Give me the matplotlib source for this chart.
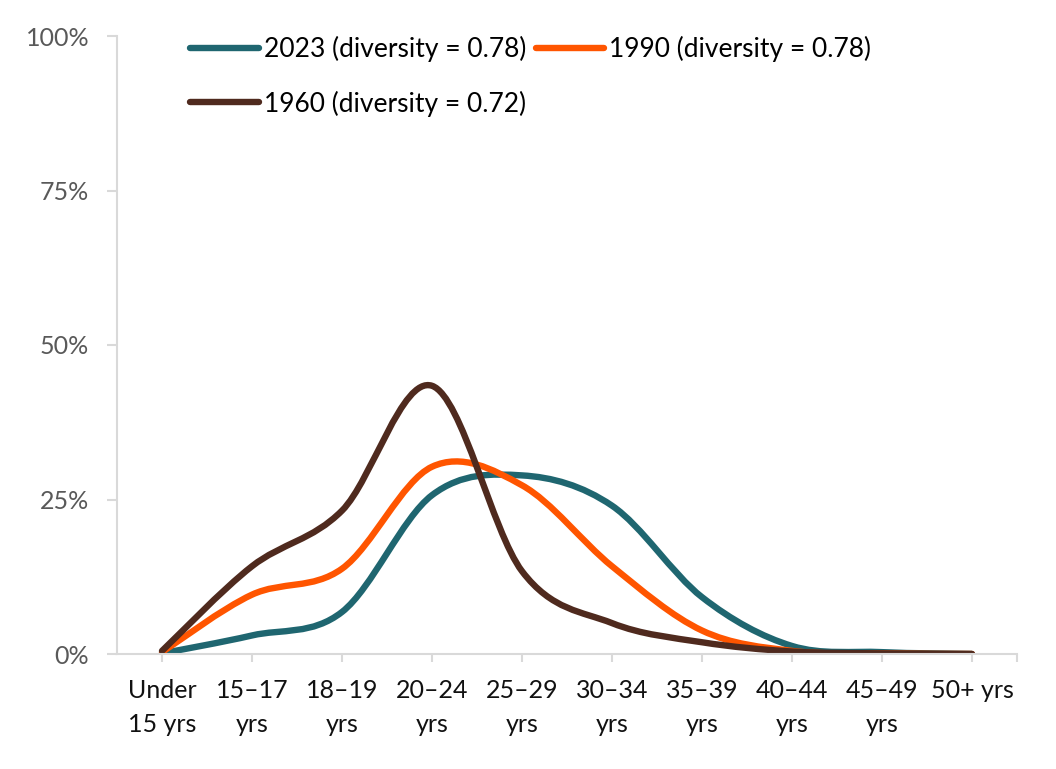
import matplotlib
matplotlib.use("Agg")
import matplotlib.pyplot as plt
from matplotlib.path import Path
from matplotlib.patches import PathPatch
from matplotlib.lines import Line2D
import numpy as np

plt.rcParams['font.family'] = ['Lato', 'DejaVu Sans']

categories = ['Under\n15 yrs', '15–17\nyrs', '18–19\nyrs', '20–24\nyrs', '25–29\nyrs',
              '30–34\nyrs', '35–39\nyrs', '40–44\nyrs', '45–49\nyrs', '50+ yrs']

share_2023 = [0.1, 3.0, 6.8, 25.7, 28.9, 24.0, 9.2, 1.3, 0.3, 0.0]
share_1990 = [0.3, 9.6, 13.8, 30.3, 27.3, 14.2, 3.8, 0.5, 0.1, 0.0]
share_1960 = [0.5, 14.2, 23.2, 43.4, 13.4, 5.0, 1.9, 0.4, 0.1, 0.0]

labels = ['2023 (diversity = 0.78)', '1990 (diversity = 0.78)', '1960 (diversity = 0.72)']
colors = ['#1F6670', '#FF5500', '#4F2A1E']

yticks = [0, 25, 50, 75, 100]
ytick_labels = ['0%', '25%', '50%', '75%', '100%']


def smooth_path(x, y):
    """Excel-style smoothed line: cubic Bezier segments through each point."""
    pts = np.column_stack([x, y]).astype(float)
    ext = np.vstack([pts[0], pts, pts[-1]])
    verts = [pts[0]]
    codes = [Path.MOVETO]
    for i in range(len(pts) - 1):
        p0, p1, p2, p3 = ext[i], ext[i + 1], ext[i + 2], ext[i + 3]
        verts += [p1 + (p2 - p0) / 6, p2 - (p3 - p1) / 6, p2]
        codes += [Path.CURVE4] * 3
    return Path(verts, codes)


fig = plt.figure(figsize=(10.56, 7.69), dpi=100)
ax = fig.add_axes([117 / 1056, 1 - 654 / 769, 900 / 1056, 618 / 769])

x = np.arange(len(categories))
handles = []
for values, color, label in zip([share_2023, share_1990, share_1960], colors, labels):
    patch = PathPatch(smooth_path(x, values), facecolor='none', edgecolor=color,
                      lw=4.6, capstyle='round', joinstyle='round')
    ax.add_patch(patch)
    handles.append(Line2D([], [], color=color, lw=4.6, solid_capstyle='round', label=label))

ax.set_xlim(-0.5, len(categories) - 0.5)
ax.set_ylim(0, 100)

ax.set_yticks(yticks)
ax.set_yticklabels(ytick_labels)
ax.set_xticks(list(x) + [len(categories) - 0.5])
ax.set_xticklabels(categories + [''])

for side in ['top', 'right']:
    ax.spines[side].set_visible(False)
for side in ['left', 'bottom']:
    ax.spines[side].set_color('#D9D9D9')
    ax.spines[side].set_linewidth(1.5)

ax.tick_params(axis='y', length=7, width=1.5, color='#D9D9D9', pad=13,
               labelsize=18, labelcolor='#595959')
ax.tick_params(axis='x', length=6, width=1.5, color='#D9D9D9', pad=12,
               labelsize=18, labelcolor='#111111')
for lbl in ax.get_xticklabels():
    lbl.set_linespacing(1.6)

# order so rows read 2023, 1990 / 1960
fig.legend([handles[0], handles[2], handles[1]],
           [labels[0], labels[2], labels[1]],
           ncol=2, loc='upper left', bbox_to_anchor=(190 / 1056, 1 - 36 / 769),
           frameon=False, fontsize=19, handlelength=2.6, handletextpad=0.2,
           columnspacing=0.35, labelspacing=1.08, borderpad=0, borderaxespad=0)

fig.savefig('out.png', dpi=100)
